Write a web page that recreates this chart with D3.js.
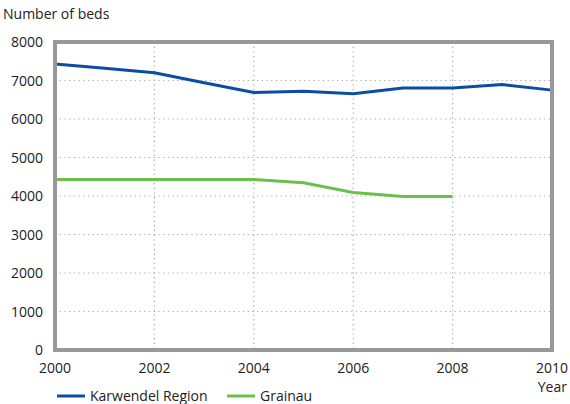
<!DOCTYPE html>
<html>
<head>
<meta charset="utf-8">
<script src="https://cdn.jsdelivr.net/npm/d3@7"></script>
<style>
  body { margin: 0; background: #fff; }
  text { font-family: "Open Sans", sans-serif; fill: #222; }
  .grid line { stroke: #a8a8a8; stroke-width: 1.2; stroke-dasharray: 1.2 3.5; }
  .line { fill: none; stroke-width: 3; }
</style>
</head>
<body>
<svg id="chart" width="570" height="404"></svg>
<script>
// chart data
var years = [2000, 2001, 2002, 2003, 2004, 2005, 2006, 2007, 2008, 2009, 2010];
var karwendel = [7430, 7320, 7200, 6940, 6690, 6720, 6655, 6805, 6805, 6895, 6750];
var grainau_years = [2000, 2001, 2002, 2003, 2004, 2005, 2006, 2007, 2008];
var grainau = [4430, 4430, 4430, 4430, 4430, 4345, 4090, 3985, 3985];
var x_ticks = [2000, 2002, 2004, 2006, 2008, 2010];
var y_ticks = [0, 1000, 2000, 3000, 4000, 5000, 6000, 7000, 8000];
var series_names = ["Karwendel Region", "Grainau"];
var series_colors = ["#0b4da2", "#6cbf4a"];

var svg = d3.select("#chart");
var margin = {left: 55, right: 18, top: 42, bottom: 54};
var width = 570 - margin.left - margin.right;
var height = 404 - margin.top - margin.bottom;

var g = svg.append("g").attr("transform", "translate(" + margin.left + "," + margin.top + ")");

var x = d3.scaleLinear().domain([2000, 2010]).range([0, width]);
var y = d3.scaleLinear().domain([0, 8000]).range([height, 0]);

// dotted grid
var grid = g.append("g").attr("class", "grid");
grid.selectAll("line.h")
    .data(y_ticks.slice(1, -1))
    .enter()
    .append("line")
    .attr("x1", 0).attr("x2", width)
    .attr("y1", d => y(d)).attr("y2", d => y(d));
grid.selectAll("line.v")
    .data(x_ticks.slice(1, -1))
    .enter()
    .append("line")
    .attr("x1", d => x(d)).attr("x2", d => x(d))
    .attr("y1", 0).attr("y2", height);

// y tick labels
g.selectAll(".ylab")
 .data(y_ticks)
 .enter()
 .append("text")
 .attr("class", "ylab")
 .attr("text-anchor", "end")
 .attr("x", -12)
 .attr("y", d => y(d) + 5)
 .style("font-size", "14px")
 .text(d => d);

// x tick labels
g.selectAll(".xlab")
 .data(x_ticks)
 .enter()
 .append("text")
 .attr("class", "xlab")
 .attr("text-anchor", "middle")
 .attr("x", d => x(d))
 .attr("y", height + 23)
 .style("font-size", "14px")
 .text(d => d);

// lines
var line = d3.line()
             .x(d => x(d[0]))
             .y(d => y(d[1]));

g.append("path")
 .attr("class", "line")
 .datum(d3.zip(years, karwendel))
 .attr("stroke", series_colors[0])
 .attr("d", line);

g.append("path")
 .attr("class", "line")
 .datum(d3.zip(grainau_years, grainau))
 .attr("stroke", series_colors[1])
 .attr("d", line);

// frame
g.append("rect")
 .attr("x", 0).attr("y", 0)
 .attr("width", width).attr("height", height)
 .attr("fill", "none")
 .attr("stroke", "#999")
 .attr("stroke-width", 4);

// axis titles
svg.append("text")
   .attr("x", 3).attr("y", 19)
   .style("font-size", "14px")
   .text("Number of beds");

svg.append("text")
   .attr("x", 567).attr("y", 392)
   .attr("text-anchor", "end")
   .style("font-size", "14px")
   .text("Year");

// legend
var legend = svg.selectAll(".legend")
                .data(series_names)
                .enter()
                .append("g")
                .attr("class", "legend")
                .attr("transform", (d, i) => "translate(" + (57 + i * 170) + ",396)");

legend.append("line")
      .attr("x1", 0).attr("x2", 28)
      .attr("stroke", (d, i) => series_colors[i])
      .attr("stroke-width", 3);

legend.append("text")
      .attr("x", 33).attr("y", 5)
      .style("font-size", "14px")
      .text(d => d);
</script>
</body>
</html>
